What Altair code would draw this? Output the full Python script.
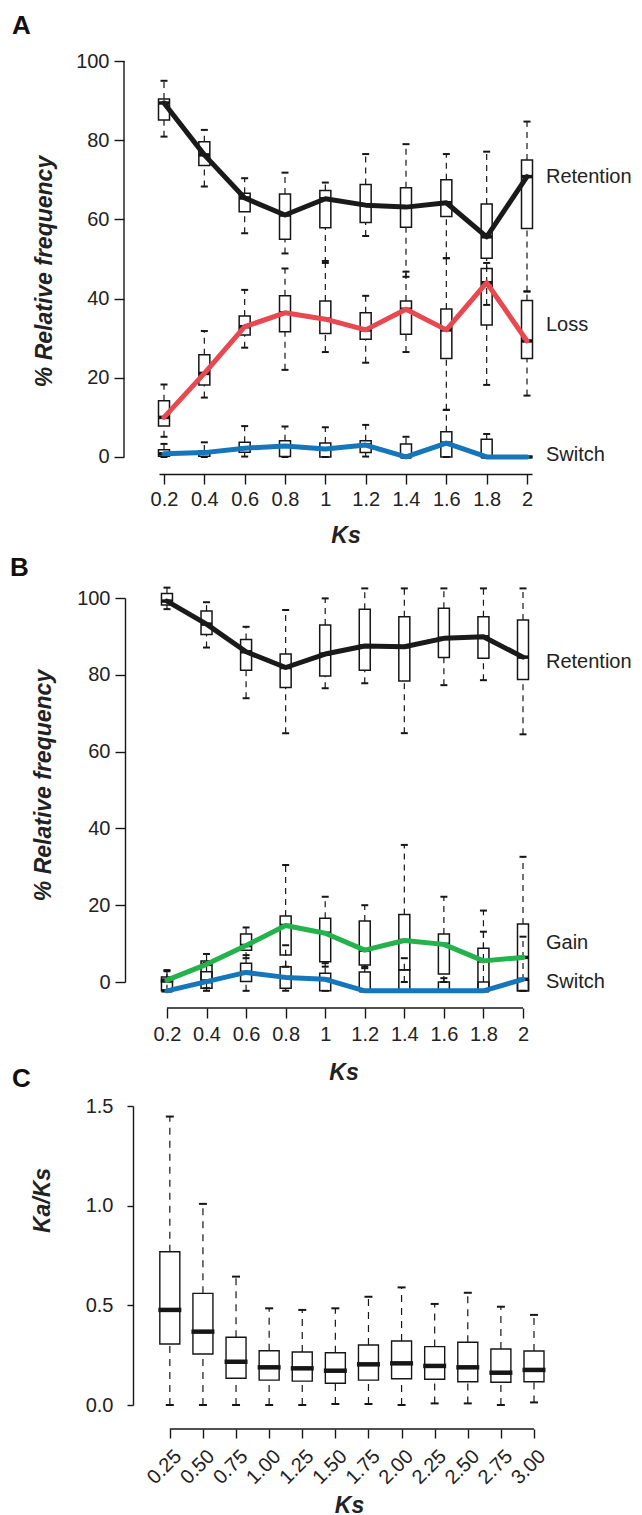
import altair as alt
import pandas as pd

FONT = "Liberation Sans"
INK = "#161616"
TXT = "#222222"

# ---------------- data ----------------
KS = [0.2, 0.4, 0.6, 0.8, 1.0, 1.2, 1.4, 1.6, 1.8, 2.0]
Y_TICKS_AB = [0, 20, 40, 60, 80, 100]

# Panel A
A_SERIES = ["Retention", "Loss", "Switch"]
A_COLORS = ["#1a1a1a", "#e84850", "#1676ba"]
A_RET_MED = [89.4, 76.3, 65.4, 61.1, 65.2, 63.6, 63.1, 64.2, 55.6, 70.8]
A_RET_Q1 = [85.1, 73.6, 61.9, 55.0, 57.9, 59.2, 58.0, 60.7, 50.2, 57.7]
A_RET_Q3 = [90.4, 79.6, 66.6, 66.4, 67.3, 68.8, 68.0, 70.0, 63.9, 75.0]
A_RET_LO = [80.9, 68.3, 56.5, 51.4, 49.0, 55.8, 45.5, 50.2, 38.4, 41.8]
A_RET_HI = [95.0, 82.6, 70.4, 71.8, 69.3, 76.5, 79.0, 76.5, 77.1, 84.7]

A_LOSS_MED = [10.0, 21.1, 32.9, 36.4, 34.8, 32.1, 37.3, 32.1, 44.0, 29.3]
A_LOSS_Q1 = [7.8, 18.2, 30.8, 31.6, 31.2, 29.7, 31.0, 24.9, 33.3, 24.9]
A_LOSS_Q3 = [14.2, 25.8, 35.6, 40.7, 39.4, 36.4, 39.4, 37.4, 47.6, 39.5]
A_LOSS_LO = [5.1, 15.0, 27.6, 22.0, 26.5, 23.8, 26.5, 11.9, 18.2, 15.5]
A_LOSS_HI = [18.3, 31.8, 42.2, 47.6, 49.5, 40.7, 46.8, 50.2, 49.0, 41.8]

A_SW_MED = [0.8, 1.1, 2.2, 2.8, 2.0, 3.0, 0.0, 3.5, 0.0, 0.0]
A_SW_Q1 = [0.2, 0.2, 1.2, 0.1, 0.0, 1.1, 0.0, 0.0, 0.0, 0.0]
A_SW_Q3 = [1.8, 1.5, 3.7, 4.1, 3.5, 4.1, 3.3, 6.4, 4.5, 0.0]
A_SW_LO = [0.0, 0.0, 0.1, 0.0, 0.0, 0.1, 0.0, 0.0, 0.0, 0.0]
A_SW_HI = [3.3, 3.7, 7.8, 7.7, 7.5, 8.1, 5.1, 11.9, 5.8, 0.0]

A_LABEL_Y = [70.7, 33.3, 0.5]

# Panel B
B_SERIES = ["Retention", "Gain", "Switch"]
B_COLORS = ["#1a1a1a", "#24b24c", "#1676ba"]
B_RET_MED = [99.2, 93.2, 86.0, 81.9, 85.4, 87.5, 87.3, 89.5, 89.9, 84.6]
B_RET_Q1 = [98.2, 90.5, 81.2, 76.7, 79.7, 81.2, 78.4, 84.5, 84.3, 78.8]
B_RET_Q3 = [101.2, 96.6, 89.2, 85.4, 93.0, 97.1, 95.1, 97.3, 95.1, 94.3]
B_RET_LO = [97.1, 87.1, 73.9, 64.8, 76.5, 77.8, 64.8, 77.3, 78.6, 64.5]
B_RET_HI = [102.7, 98.9, 92.5, 96.9, 99.9, 102.5, 102.5, 102.5, 102.5, 102.5]

B_GAIN_MED = [0.5, 4.6, 9.5, 14.7, 12.7, 8.3, 10.8, 9.8, 5.5, 6.4]
B_GAIN_Q1 = [0.0, 0.5, 8.3, 7.0, 5.3, 4.4, 3.1, 2.1, -2.0, -2.3]
B_GAIN_Q3 = [1.3, 5.5, 12.5, 17.2, 16.6, 15.9, 17.6, 12.5, 8.8, 15.1]
B_GAIN_LO = [-2.3, -1.6, 6.2, 4.0, 4.0, 3.6, 0.0, 0.0, -2.3, -2.3]
B_GAIN_HI = [3.1, 7.3, 14.2, 30.5, 22.2, 20.0, 35.7, 22.2, 18.6, 32.6]

B_SW_MED = [-2.3, 0.1, 2.5, 1.2, 0.7, -2.3, -2.3, -2.3, -2.3, 0.7]
B_SW_Q1 = [-2.3, -1.6, 0.1, -1.6, -2.3, -2.3, -2.3, -2.3, -2.3, -2.3]
B_SW_Q3 = [0.5, 2.7, 4.9, 4.0, 2.3, 2.6, 3.2, 0.0, 0.0, 0.5]
B_SW_LO = [-2.3, -2.3, -2.3, -2.3, -2.3, -2.3, -2.3, -2.3, -2.3, -2.3]
B_SW_HI = [2.8, 5.0, 7.0, 9.6, 4.9, 4.0, 6.2, 1.0, 13.1, 11.8]

B_LABEL_Y = [83.3, 10.2, 0.0]

# Panel C
C_KS = [0.25, 0.50, 0.75, 1.00, 1.25, 1.50, 1.75, 2.00, 2.25, 2.50, 2.75, 3.00]
C_MED = [0.477, 0.368, 0.217, 0.189, 0.184, 0.172, 0.204, 0.209, 0.196, 0.189, 0.162, 0.176]
C_Q1 = [0.306, 0.256, 0.134, 0.125, 0.120, 0.109, 0.125, 0.132, 0.129, 0.117, 0.114, 0.117]
C_Q3 = [0.769, 0.560, 0.340, 0.272, 0.266, 0.262, 0.301, 0.321, 0.293, 0.315, 0.281, 0.271]
C_LO = [0.0, 0.0, 0.0, 0.0, 0.0, 0.005, 0.005, 0.0, 0.008, 0.008, 0.0, 0.013]
C_HI = [1.447, 1.009, 0.644, 0.485, 0.477, 0.485, 0.543, 0.590, 0.507, 0.563, 0.493, 0.452]
C_Y_TICKS = [0.0, 0.5, 1.0, 1.5]


def stats_frame(names, stats, ks):
    rows = []
    for name, (med, q1, q3, lo, hi) in zip(names, stats):
        for k, m, a, b, l, h in zip(ks, med, q1, q3, lo, hi):
            rows.append({"ks": k, "series": name, "med": m, "q1": a, "q3": b, "lo": l, "hi": h})
    return pd.DataFrame(rows)


def make_enc(xdom, ydom, axx, axy):
    def X(f="ks"):
        return alt.X(f"{f}:Q", scale=alt.Scale(domain=xdom, nice=False, zero=False), axis=axx)

    def Y(f):
        return alt.Y(f"{f}:Q", scale=alt.Scale(domain=ydom, nice=False, zero=False), axis=axy)

    return X, Y


def box_layers(df, X, Y, box_w, cap_w, med_w, med_th, dash, box_sw):
    base = alt.Chart(df)
    return [
        base.mark_rule(strokeDash=dash, strokeWidth=1.2, color=INK).encode(x=X(), y=Y("lo"), y2=alt.Y2("q1")),
        base.mark_rule(strokeDash=dash, strokeWidth=1.2, color=INK).encode(x=X(), y=Y("q3"), y2=alt.Y2("hi")),
        base.mark_tick(orient="horizontal", size=cap_w, thickness=2, color=INK, opacity=1).encode(x=X(), y=Y("lo")),
        base.mark_tick(orient="horizontal", size=cap_w, thickness=2, color=INK, opacity=1).encode(x=X(), y=Y("hi")),
        base.mark_bar(size=box_w, fillOpacity=0, stroke=INK, strokeWidth=box_sw).encode(
            x=X(), y=Y("q1"), y2=alt.Y2("q3")),
        base.mark_tick(orient="horizontal", size=med_w, thickness=med_th, color=INK, opacity=1).encode(
            x=X(), y=Y("med")),
    ]


def letter_layer(t, lx, ly):
    return alt.Chart(pd.DataFrame({"t": [t]})).mark_text(
        align="left", baseline="top", fontSize=26, fontWeight="bold", font=FONT, color="#111"
    ).encode(x=alt.value(lx), y=alt.value(ly), text="t:N")


def line_panel(names, colors, stats, label_y, letter, xdom, ydom, width, height,
               axx, axy, label_dx, letter_xy, extra):
    X, Y = make_enc(xdom, ydom, axx, axy)
    df = stats_frame(names, stats, KS)
    layers = list(extra(X, Y))
    layers += box_layers(df, X, Y, 11, 7, 11, 3.5, [6, 5], 1.5)
    layers.append(
        alt.Chart(df).mark_line(strokeWidth=5, strokeCap="round", strokeJoin="round").encode(
            x=X(), y=Y("med"),
            color=alt.Color("series:N", scale=alt.Scale(domain=names, range=colors), legend=None),
        )
    )
    lab = pd.DataFrame({"series": names, "val": label_y, "ks": [KS[-1]] * len(names)})
    layers.append(
        alt.Chart(lab).mark_text(align="left", baseline="middle", dx=label_dx, fontSize=20, font=FONT,
                                 color=TXT).encode(x=X(), y=Y("val"), text="series:N")
    )
    layers.append(letter_layer(letter, *letter_xy))
    return alt.layer(*layers).properties(width=width, height=height)


# ---------------- Panel A ----------------
A_W, A_H = 373, 413
axAx = alt.Axis(values=KS, format="~g", offset=0, tickSize=10, labelPadding=5, labelFlush=False,
                labelOverlap=False, title="Ks", titleY=61, titleBaseline="middle")
axAy = alt.Axis(values=Y_TICKS_AB, offset=35, tickSize=10, labelPadding=5, domain=False,
                title="% Relative frequency", titleX=-80, titleY=210, titleAngle=270,
                titleAlign="center", titleBaseline="middle")


def a_extra(X, Y):
    d = pd.DataFrame({"lo": [Y_TICKS_AB[0]], "hi": [Y_TICKS_AB[-1]]})
    return [alt.Chart(d).mark_rule(color=INK, strokeWidth=1.4).encode(x=alt.value(-35), y=Y("lo"), y2=alt.Y2("hi"))]


panelA = line_panel(
    A_SERIES, A_COLORS,
    [(A_RET_MED, A_RET_Q1, A_RET_Q3, A_RET_LO, A_RET_HI),
     (A_LOSS_MED, A_LOSS_Q1, A_LOSS_Q3, A_LOSS_LO, A_LOSS_HI),
     (A_SW_MED, A_SW_Q1, A_SW_Q3, A_SW_LO, A_SW_HI)],
    A_LABEL_Y, "A", [0.2, 2.0], [-4.3, 100], A_W, A_H, axAx, axAy, 19, (-147, -48), a_extra,
)

# ---------------- Panel B ----------------
B_W, B_H = 369, 384
axBx = alt.Axis(values=KS, format="~g", offset=26, tickSize=10, labelPadding=6, labelFlush=False,
                labelOverlap=False, domain=False, title="Ks", titleY=64, titleBaseline="middle")
axBy = alt.Axis(values=Y_TICKS_AB, offset=34, tickSize=10, labelPadding=5,
                title="% Relative frequency", titleX=-82, titleY=187, titleAngle=270,
                titleAlign="center", titleBaseline="middle")


def b_extra(X, Y):
    d = pd.DataFrame({"a": [KS[0]], "b": [KS[-1]]})
    return [alt.Chart(d).mark_rule(color=INK, strokeWidth=1.4).encode(x=X("a"), x2=alt.X2("b"), y=alt.value(B_H + 26))]


panelB = line_panel(
    B_SERIES, B_COLORS,
    [(B_RET_MED, B_RET_Q1, B_RET_Q3, B_RET_LO, B_RET_HI),
     (B_GAIN_MED, B_GAIN_Q1, B_GAIN_Q3, B_GAIN_LO, B_GAIN_HI),
     (B_SW_MED, B_SW_Q1, B_SW_Q3, B_SW_LO, B_SW_HI)],
    B_LABEL_Y, "B", [0.185, 2.0], [0, 100], B_W, B_H, axBx, axBy, 23, (-149, -43), b_extra,
)

# ---------------- Panel C ----------------
C_W, C_H = 380, 299
axCx = alt.Axis(values=C_KS, format=".2f", offset=24, tickSize=9, labelAngle=315, labelAlign="right",
                labelBaseline="middle", labelPadding=15, labelOffset=8, labelFlush=False,
                labelOverlap=False, domain=False, title="Ks", titleY=76, titleBaseline="middle")
axCy = alt.Axis(values=C_Y_TICKS, format=".1f", offset=26, tickSize=6, labelPadding=14,
                title="Ka/Ks", titleX=-91, titleY=94, titleAngle=270, titleAlign="center",
                titleBaseline="middle")
XC, YC = make_enc([0.206, 3.0], [0, 1.5], axCx, axCy)
dfC = pd.DataFrame({"ks": C_KS, "med": C_MED, "q1": C_Q1, "q3": C_Q3, "lo": C_LO, "hi": C_HI})
dC_axis = pd.DataFrame({"a": [C_KS[0]], "b": [C_KS[-1]]})
c_layers = [alt.Chart(dC_axis).mark_rule(color=INK, strokeWidth=1.4).encode(
    x=XC("a"), x2=alt.X2("b"), y=alt.value(C_H + 24))]
c_layers += box_layers(dfC, XC, YC, 20, 8, 23, 4.5, [7, 6], 1.4)
c_layers.append(letter_layer("C", -147, -40))
panelC = alt.layer(*c_layers).properties(width=C_W, height=C_H)

chart = alt.vconcat(panelA, panelB, panelC, spacing=124, bounds="flush").resolve_scale(
    color="independent"
).properties(
    padding={"left": 2, "top": 5, "right": 0, "bottom": 0}
).configure_axis(
    domainColor=INK, domainWidth=1.4, tickColor=INK, tickWidth=1.4,
    labelFont=FONT, labelFontSize=20, labelColor=TXT,
    titleFont=FONT, titleFontSize=23, titleFontWeight="bold", titleFontStyle="italic", titleColor=TXT,
    grid=False,
).configure_view(stroke=None)

chart.save("out.html", embed_options={"renderer": "svg", "actions": False})
